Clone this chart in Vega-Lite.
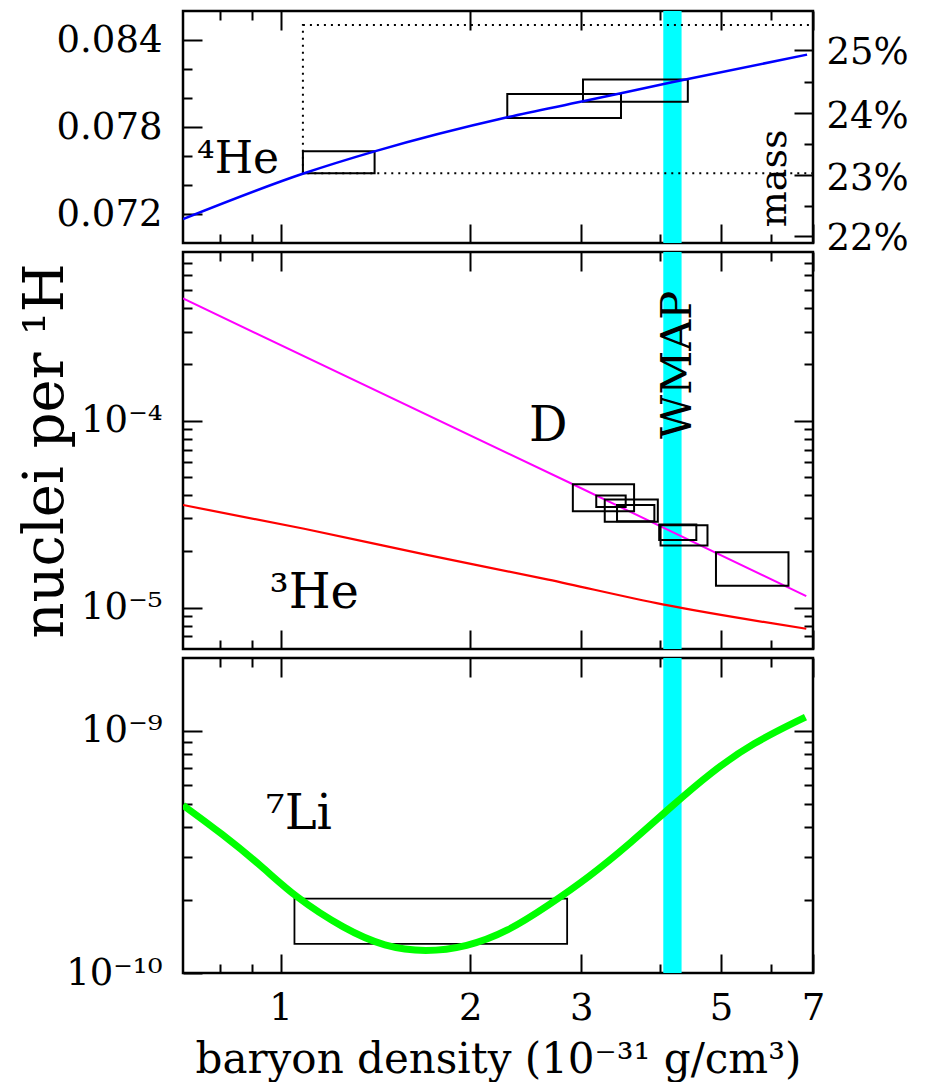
{
  "$schema": "https://vega.github.io/schema/vega-lite/v6.json",
  "background": "white",
  "padding": {"left": 16, "top": 8, "right": 5, "bottom": 5},
  "bounds": "flush",
  "spacing": 9,
  "config": {
    "view": {"stroke": "black", "strokeWidth": 2.5},
    "font": "DejaVu Serif",
    "axis": {"domain": false, "grid": false, "tickColor": "black", "tickWidth": 2, "labelFont": "DejaVu Serif", "labelFontSize": 37, "labelColor": "black", "titleFont": "DejaVu Serif", "titleColor": "black", "titleFontWeight": "normal", "labelFlush": false, "labelOverlap": false, "labelBound": false}
  },
  "datasets": {
    "wmap": [{"x1": 4.05, "x2": 4.33}],
    "he4curve": [{"x": 0.7, "y": 0.07165}, {"x": 1.09, "y": 0.07481}, {"x": 1.41, "y": 0.07632}, {"x": 2.29, "y": 0.07867}, {"x": 3.02, "y": 0.07977}, {"x": 4.18, "y": 0.08108}, {"x": 6.85, "y": 0.08299}],
    "he4boxes": [{"x1": 1.085, "x2": 1.41, "y1": 0.07481, "y2": 0.07632}, {"x1": 2.29, "x2": 3.47, "y1": 0.07862, "y2": 0.08028}, {"x1": 3.02, "x2": 4.43, "y1": 0.07975, "y2": 0.08127}],
    "he4frame": [{"x1": 1.085, "x2": 7, "y1": 0.07481, "y2": 0.08503}],
    "he4text": [{"x": 0.737, "y": 0.0748, "label": "⁴He"}],
    "masstext": [{"x": 6.34, "y": 0.07446, "label": "mass"}],
    "dcurve": [{"x": 0.7, "y": 0.000451}, {"x": 2.91, "y": 0.0000457}, {"x": 6.83, "y": 0.0000115}],
    "he3curve": [{"x": 0.7, "y": 0.0000354}, {"x": 1.09, "y": 0.0000264}, {"x": 1.7, "y": 0.0000192}, {"x": 2.66, "y": 0.0000141}, {"x": 4.04, "y": 0.0000104}, {"x": 6.83, "y": 0.0000077}],
    "dboxes": [
      {"x1": 2.91, "x2": 3.64, "y1": 0.0000328, "y2": 0.0000457},
      {"x1": 3.17, "x2": 3.53, "y1": 0.0000345, "y2": 0.0000398},
      {"x1": 3.27, "x2": 3.97, "y1": 0.0000288, "y2": 0.0000379},
      {"x1": 3.42, "x2": 3.92, "y1": 0.000029, "y2": 0.0000354},
      {"x1": 3.99, "x2": 4.57, "y1": 0.000023, "y2": 0.0000278},
      {"x1": 4.01, "x2": 4.76, "y1": 0.0000215, "y2": 0.0000276},
      {"x1": 4.91, "x2": 6.4, "y1": 0.0000131, "y2": 0.0000198}
    ],
    "midtext": [{"x": 2.48, "y": 0.0000781, "label": "D"}, {"x": 0.96, "y": 0.0000099, "label": "³He"}],
    "wmaptext": [{"x": 4.48, "y": 0.000199, "label": "WMAP"}],
    "li7curve": [{"x": 0.7, "y": 4.93e-10}, {"x": 0.806, "y": 3.77e-10}, {"x": 0.937, "y": 2.74e-10}, {"x": 1.054, "y": 2.06e-10}, {"x": 1.262, "y": 1.52e-10}, {"x": 1.464, "y": 1.28e-10}, {"x": 1.7, "y": 1.22e-10}, {"x": 1.974, "y": 1.28e-10}, {"x": 2.291, "y": 1.48e-10}, {"x": 2.66, "y": 1.9e-10}, {"x": 3.088, "y": 2.49e-10}, {"x": 3.585, "y": 3.42e-10}, {"x": 4.162, "y": 4.85e-10}, {"x": 4.83, "y": 6.77e-10}, {"x": 5.61, "y": 8.9e-10}, {"x": 6.81, "y": 1.14e-9}],
    "li7box": [{"x1": 1.052, "x2": 2.85, "y1": 1.32e-10, "y2": 2.03e-10}],
    "li7text": [{"x": 0.946, "y": 3.94e-10, "label": "⁷Li"}]
  },
  "resolve": {"scale": {"x": "independent", "y": "independent"}},
  "vconcat": [
    {
      "width": 630,
      "height": 232,
      "resolve": {"axis": {"x": "independent", "y": "independent"}},
      "layer": [
        {"data": {"name": "wmap"}, "mark": {"type": "rect", "color": "#00FFFF"},
         "encoding": {"x": {"field": "x1", "type": "quantitative", "scale": {"type": "log", "domain": [0.7, 7], "nice": false}, "axis": null}, "x2": {"field": "x2"}}},
        {"data": {"name": "he4frame"}, "mark": {"type": "rect", "fillOpacity": 0, "stroke": "black", "strokeWidth": 2, "strokeDash": [2, 5]},
         "encoding": {"x": {"field": "x1", "type": "quantitative", "scale": {"type": "log", "domain": [0.7, 7], "nice": false}, "axis": null}, "x2": {"field": "x2"},
                      "y": {"field": "y1", "type": "quantitative", "scale": {"domain": [0.07, 0.086], "zero": false, "nice": false}, "axis": null}, "y2": {"field": "y2"}}},
        {"data": {"name": "he4boxes"}, "mark": {"type": "rect", "fillOpacity": 0, "stroke": "black", "strokeWidth": 2},
         "encoding": {
           "x": {"field": "x1", "type": "quantitative", "scale": {"type": "log", "domain": [0.7, 7], "nice": false},
                 "axis": {"orient": "top", "values": [0.8, 0.9, 1, 2, 3, 4, 5, 6, 7], "labels": false, "title": null,
                          "tickSize": {"condition": {"test": "datum.value==1||datum.value==2||datum.value==3||datum.value==5||datum.value==7", "value": -19}, "value": -9}}},
           "x2": {"field": "x2"},
           "y": {"field": "y1", "type": "quantitative", "scale": {"domain": [0.07, 0.086], "zero": false, "nice": false},
                 "axis": {"orient": "right", "values": [0.0705128, 0.0725806, 0.0746753, 0.0767974, 0.0789474, 0.0811258, 0.0833333], "title": null,
                          "labelExpr": "abs(400*datum.value/(1+4*datum.value) - round(400*datum.value/(1+4*datum.value))) < 0.05 ? round(400*datum.value/(1+4*datum.value)) + '%' : ''",
                          "labelPadding": 32, "labelOffset": 3,
                          "tickSize": {"condition": {"test": "abs(400*datum.value/(1+4*datum.value) - round(400*datum.value/(1+4*datum.value))) < 0.05", "value": -19}, "value": -9}}},
           "y2": {"field": "y2"}}},
        {"data": {"name": "he4curve"}, "mark": {"type": "line", "color": "#0000FF", "strokeWidth": 2.5, "interpolate": "monotone", "clip": true},
         "encoding": {
           "x": {"field": "x", "type": "quantitative", "scale": {"type": "log", "domain": [0.7, 7], "nice": false},
                 "axis": {"orient": "bottom", "values": [0.8, 0.9, 1, 2, 3, 4, 5, 6, 7], "labels": false, "title": null,
                          "tickSize": {"condition": {"test": "datum.value==1||datum.value==2||datum.value==3||datum.value==5||datum.value==7", "value": -19}, "value": -9}}},
           "y": {"field": "y", "type": "quantitative", "scale": {"domain": [0.07, 0.086], "zero": false, "nice": false},
                 "axis": {"orient": "left", "values": [0.072, 0.074, 0.076, 0.078, 0.08, 0.082, 0.084], "title": null,
                          "labelExpr": "datum.value==0.072||datum.value==0.078||datum.value==0.084 ? format(datum.value, '.3f') : ''",
                          "labelPadding": 40,
                          "tickSize": {"condition": {"test": "datum.value==0.072||datum.value==0.078||datum.value==0.084", "value": -19}, "value": -9}}}}},
        {"data": {"name": "he4text"}, "mark": {"type": "text", "font": "DejaVu Serif", "fontSize": 44, "align": "left", "baseline": "alphabetic", "color": "black"},
         "encoding": {"x": {"field": "x", "type": "quantitative", "scale": {"type": "log", "domain": [0.7, 7], "nice": false}, "axis": null},
                      "y": {"field": "y", "type": "quantitative", "scale": {"domain": [0.07, 0.086], "zero": false, "nice": false}, "axis": null},
                      "text": {"field": "label"}}},
        {"data": {"name": "masstext"}, "mark": {"type": "text", "font": "DejaVu Serif", "fontSize": 38, "angle": 270, "align": "center", "baseline": "alphabetic", "color": "black"},
         "encoding": {"x": {"field": "x", "type": "quantitative", "scale": {"type": "log", "domain": [0.7, 7], "nice": false}, "axis": null},
                      "y": {"field": "y", "type": "quantitative", "scale": {"domain": [0.07, 0.086], "zero": false, "nice": false}, "axis": null},
                      "text": {"field": "label"}}}
      ]
    },
    {
      "width": 630,
      "height": 397,
      "resolve": {"axis": {"x": "independent", "y": "independent"}},
      "layer": [
        {"data": {"name": "wmap"}, "mark": {"type": "rect", "color": "#00FFFF"},
         "encoding": {"x": {"field": "x1", "type": "quantitative", "scale": {"type": "log", "domain": [0.7, 7], "nice": false}, "axis": null}, "x2": {"field": "x2"}}},
        {"data": {"name": "he3curve"}, "mark": {"type": "line", "color": "#FF0000", "strokeWidth": 2.2, "interpolate": "monotone", "clip": true},
         "encoding": {
           "x": {"field": "x", "type": "quantitative", "scale": {"type": "log", "domain": [0.7, 7], "nice": false},
                 "axis": {"orient": "top", "values": [0.8, 0.9, 1, 2, 3, 4, 5, 6, 7], "labels": false, "title": null,
                          "tickSize": {"condition": {"test": "datum.value==1||datum.value==2||datum.value==3||datum.value==5||datum.value==7", "value": -19}, "value": -9}}},
           "y": {"field": "y", "type": "quantitative", "scale": {"type": "log", "domain": [0.000006, 0.0008], "nice": false},
                 "axis": {"orient": "right", "values": [0.000007, 0.000008, 0.000009, 0.00001, 0.00002, 0.00003, 0.00004, 0.00005, 0.00006, 0.00007, 0.00008, 0.00009, 0.0001, 0.0002, 0.0003, 0.0004, 0.0005, 0.0006, 0.0007], "title": null, "labels": false,
                          "tickSize": {"condition": {"test": "datum.value==0.0001||datum.value==0.00001", "value": -19}, "value": -9}}}}},
        {"data": {"name": "dcurve"}, "mark": {"type": "line", "color": "#FF00FF", "strokeWidth": 2, "interpolate": "monotone", "clip": true},
         "encoding": {
           "x": {"field": "x", "type": "quantitative", "scale": {"type": "log", "domain": [0.7, 7], "nice": false},
                 "axis": {"orient": "bottom", "values": [0.8, 0.9, 1, 2, 3, 4, 5, 6, 7], "labels": false, "title": null,
                          "tickSize": {"condition": {"test": "datum.value==1||datum.value==2||datum.value==3||datum.value==5||datum.value==7", "value": -19}, "value": -9}}},
           "y": {"field": "y", "type": "quantitative", "scale": {"type": "log", "domain": [0.000006, 0.0008], "nice": false},
                 "axis": {"orient": "left", "values": [0.000007, 0.000008, 0.000009, 0.00001, 0.00002, 0.00003, 0.00004, 0.00005, 0.00006, 0.00007, 0.00008, 0.00009, 0.0001, 0.0002, 0.0003, 0.0004, 0.0005, 0.0006, 0.0007],
                          "title": "nuclei per ¹H", "titleFontSize": 56, "titlePadding": 6,
                          "labelExpr": "datum.value==0.0001 ? '10⁻⁴' : datum.value==0.00001 ? '10⁻⁵' : ''",
                          "labelPadding": 40,
                          "tickSize": {"condition": {"test": "datum.value==0.0001||datum.value==0.00001", "value": -19}, "value": -9}}}}},
        {"data": {"name": "dboxes"}, "mark": {"type": "rect", "fillOpacity": 0, "stroke": "black", "strokeWidth": 2},
         "encoding": {"x": {"field": "x1", "type": "quantitative", "scale": {"type": "log", "domain": [0.7, 7], "nice": false}, "axis": null}, "x2": {"field": "x2"},
                      "y": {"field": "y1", "type": "quantitative", "scale": {"type": "log", "domain": [0.000006, 0.0008], "nice": false}, "axis": null}, "y2": {"field": "y2"}}},
        {"data": {"name": "midtext"}, "mark": {"type": "text", "font": "DejaVu Serif", "fontSize": 48, "align": "left", "baseline": "alphabetic", "color": "black"},
         "encoding": {"x": {"field": "x", "type": "quantitative", "scale": {"type": "log", "domain": [0.7, 7], "nice": false}, "axis": null},
                      "y": {"field": "y", "type": "quantitative", "scale": {"type": "log", "domain": [0.000006, 0.0008], "nice": false}, "axis": null},
                      "text": {"field": "label"}}},
        {"data": {"name": "wmaptext"}, "mark": {"type": "text", "font": "DejaVu Serif", "fontSize": 43, "angle": 270, "align": "center", "baseline": "alphabetic", "color": "black"},
         "encoding": {"x": {"field": "x", "type": "quantitative", "scale": {"type": "log", "domain": [0.7, 7], "nice": false}, "axis": null},
                      "y": {"field": "y", "type": "quantitative", "scale": {"type": "log", "domain": [0.000006, 0.0008], "nice": false}, "axis": null},
                      "text": {"field": "label"}}}
      ]
    },
    {
      "width": 630,
      "height": 315,
      "resolve": {"axis": {"x": "independent", "y": "independent"}},
      "layer": [
        {"data": {"name": "wmap"}, "mark": {"type": "rect", "color": "#00FFFF"},
         "encoding": {"x": {"field": "x1", "type": "quantitative", "scale": {"type": "log", "domain": [0.7, 7], "nice": false}, "axis": null}, "x2": {"field": "x2"}}},
        {"data": {"name": "li7box"}, "mark": {"type": "rect", "fillOpacity": 0, "stroke": "black", "strokeWidth": 1.8},
         "encoding": {
           "x": {"field": "x1", "type": "quantitative", "scale": {"type": "log", "domain": [0.7, 7], "nice": false},
                 "axis": {"orient": "top", "values": [0.8, 0.9, 1, 2, 3, 4, 5, 6, 7], "labels": false, "title": null,
                          "tickSize": {"condition": {"test": "datum.value==1||datum.value==2||datum.value==3||datum.value==5||datum.value==7", "value": -19}, "value": -9}}},
           "x2": {"field": "x2"},
           "y": {"field": "y1", "type": "quantitative", "scale": {"type": "log", "domain": [1e-10, 2e-9], "nice": false},
                 "axis": {"orient": "right", "values": [2e-10, 3e-10, 4e-10, 5e-10, 6e-10, 7e-10, 8e-10, 9e-10, 1e-9], "title": null, "labels": false,
                          "tickSize": {"condition": {"test": "datum.value==0.000000001", "value": -19}, "value": -9}}},
           "y2": {"field": "y2"}}},
        {"data": {"name": "li7curve"}, "mark": {"type": "line", "color": "#00FF00", "strokeWidth": 7, "interpolate": "basis", "clip": true},
         "encoding": {
           "x": {"field": "x", "type": "quantitative", "scale": {"type": "log", "domain": [0.7, 7], "nice": false},
                 "axis": {"orient": "bottom", "values": [0.8, 0.9, 1, 2, 3, 4, 5, 6, 7], "title": "baryon density (10⁻³¹ g/cm³)", "titleFontSize": 42, "titlePadding": 3,
                          "labelExpr": "datum.value==1||datum.value==2||datum.value==3||datum.value==5||datum.value==7 ? '' + datum.value : ''",
                          "labelPadding": 36,
                          "tickSize": {"condition": {"test": "datum.value==1||datum.value==2||datum.value==3||datum.value==5||datum.value==7", "value": -19}, "value": -9}}},
           "y": {"field": "y", "type": "quantitative", "scale": {"type": "log", "domain": [1e-10, 2e-9], "nice": false},
                 "axis": {"orient": "left", "values": [1e-10, 2e-10, 3e-10, 4e-10, 5e-10, 6e-10, 7e-10, 8e-10, 9e-10, 1e-9], "title": null,
                          "labelExpr": "datum.value==0.000000001 ? '10⁻⁹' : datum.value==0.0000000001 ? '10⁻¹⁰' : ''",
                          "labelPadding": 40,
                          "tickSize": {"condition": {"test": "datum.value==0.0000000001||datum.value==0.000000001", "value": -19}, "value": -9}}}}},
        {"data": {"name": "li7text"}, "mark": {"type": "text", "font": "DejaVu Serif", "fontSize": 48, "align": "left", "baseline": "alphabetic", "color": "black"},
         "encoding": {"x": {"field": "x", "type": "quantitative", "scale": {"type": "log", "domain": [0.7, 7], "nice": false}, "axis": null},
                      "y": {"field": "y", "type": "quantitative", "scale": {"type": "log", "domain": [1e-10, 2e-9], "nice": false}, "axis": null},
                      "text": {"field": "label"}}}
      ]
    }
  ]
}
